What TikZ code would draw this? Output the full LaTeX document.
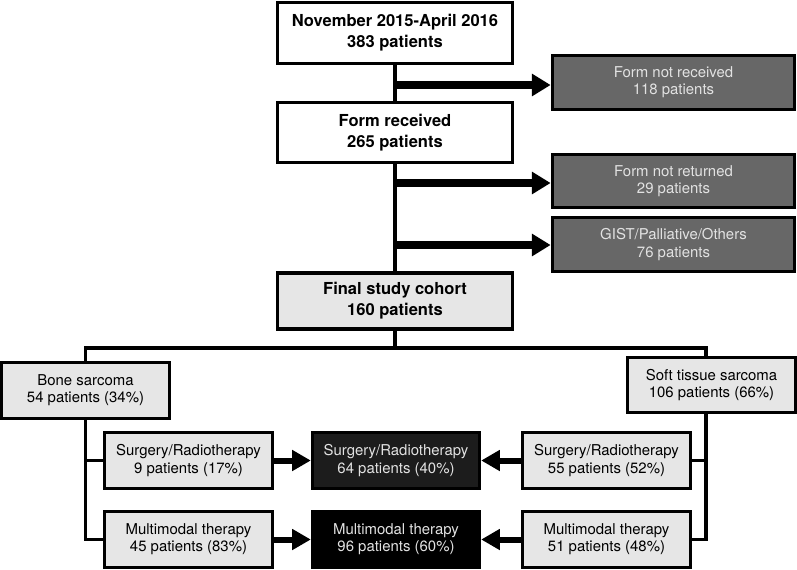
\documentclass[tikz,border=0pt]{standalone}
\usepackage{fontspec}
\setmainfont{TeX Gyre Heros}
\usepackage{xcolor}
\usepackage{tikz}
\usetikzlibrary{arrows.meta,positioning}
\definecolor{boxgray}{HTML}{E6E6E6}
\definecolor{outgray}{HTML}{676767}
\definecolor{outtext}{HTML}{E2E2E2}
\definecolor{darkbox}{HTML}{1C1C1C}
\begin{document}
\begin{tikzpicture}[x=0.75pt,y=-0.75pt,
  box/.style={draw,line width=2.3pt,align=center,inner sep=0pt,font=\fontsize{11.2}{12.9}\selectfont},
  mainbox/.style={box,fill=white,minimum width=176pt,minimum height=45.5pt,font=\fontsize{12.4}{15.7}\selectfont\bfseries},
  outbox/.style={box,fill=outgray,text=outtext,minimum width=182pt,minimum height=40pt},
  lightbox/.style={box,fill=boxgray,minimum width=125.5pt,minimum height=41.5pt},
  resbox/.style={box,fill=darkbox,text=outtext,minimum width=125.5pt,minimum height=41.5pt},
  conn/.style={line width=2.3pt},
  bigarrow/.style={line width=5.5pt,-{Triangle[length=14pt,width=16pt]}},
  smallarrow/.style={line width=4.5pt,-{Triangle[length=14pt,width=15pt]}}]
\useasboundingbox (0,0) rectangle (797,569);
\node[mainbox] (start) at (395,33) {November 2015-April 2016\\383 patients};
\node[mainbox] (formrec) at (395,132.5) {Form received\\265 patients};
\node[mainbox,fill=boxgray,minimum height=42pt] (cohort) at (395,301) {Final study cohort\\160 patients};
\node[outbox] (notrec) at (673.5,82.5) {Form not received\\118 patients};
\node[outbox] (notret) at (673.5,181) {Form not returned\\29 patients};
\node[outbox] (gist) at (673.5,244.5) {GIST/Palliative/Others\\76 patients};
\node[lightbox] (bone) at (85.5,390.5) {Bone sarcoma\\54 patients (34\%)};
\node[lightbox] (soft) at (711.5,385) {Soft tissue sarcoma\\106 patients (66\%)};
\node[lightbox] (lsurg) at (188.5,460.5) {Surgery/Radiotherapy\\9 patients (17\%)};
\node[lightbox] (lmulti) at (188.5,539.5) {Multimodal therapy\\45 patients (83\%)};
\node[resbox] (csurg) at (396,460.5) {Surgery/Radiotherapy\\64 patients (40\%)};
\node[resbox,fill=black] (cmulti) at (396,539.5) {Multimodal therapy\\96 patients (60\%)};
\node[lightbox] (rsurg) at (606.5,460.5) {Surgery/Radiotherapy\\55 patients (52\%)};
\node[lightbox] (rmulti) at (606.5,539.5) {Multimodal therapy\\51 patients (48\%)};
\coordinate (s1) at (395,85);
\coordinate (s2) at (395,183);
\coordinate (s3) at (395,245);
\coordinate (split) at (395,348);
\coordinate (softtop) at (706,357);
\coordinate (softbot) at (706,413);
\draw[conn] (start) -- (formrec);
\draw[conn] (formrec) -- (cohort);
\draw[bigarrow] (s1) -- (s1 -| notrec.west);
\draw[bigarrow] (s2) -- (s2 -| notret.west);
\draw[bigarrow] (s3) -- (s3 -| gist.west);
\draw[conn] (cohort.south) -- (split);
\draw[conn] (bone.north) |- (split) -| (softtop);
\draw[conn] (bone.south) |- (lsurg.west);
\draw[conn] (bone.south) |- (lmulti.west);
\draw[conn] (softbot) |- (rsurg.east);
\draw[conn] (softbot) |- (rmulti.east);
\draw[smallarrow] (lsurg) -- (csurg);
\draw[smallarrow] (lmulti) -- (cmulti);
\draw[smallarrow] (rsurg) -- (csurg);
\draw[smallarrow] (rmulti) -- (cmulti);
\end{tikzpicture}
\end{document}
